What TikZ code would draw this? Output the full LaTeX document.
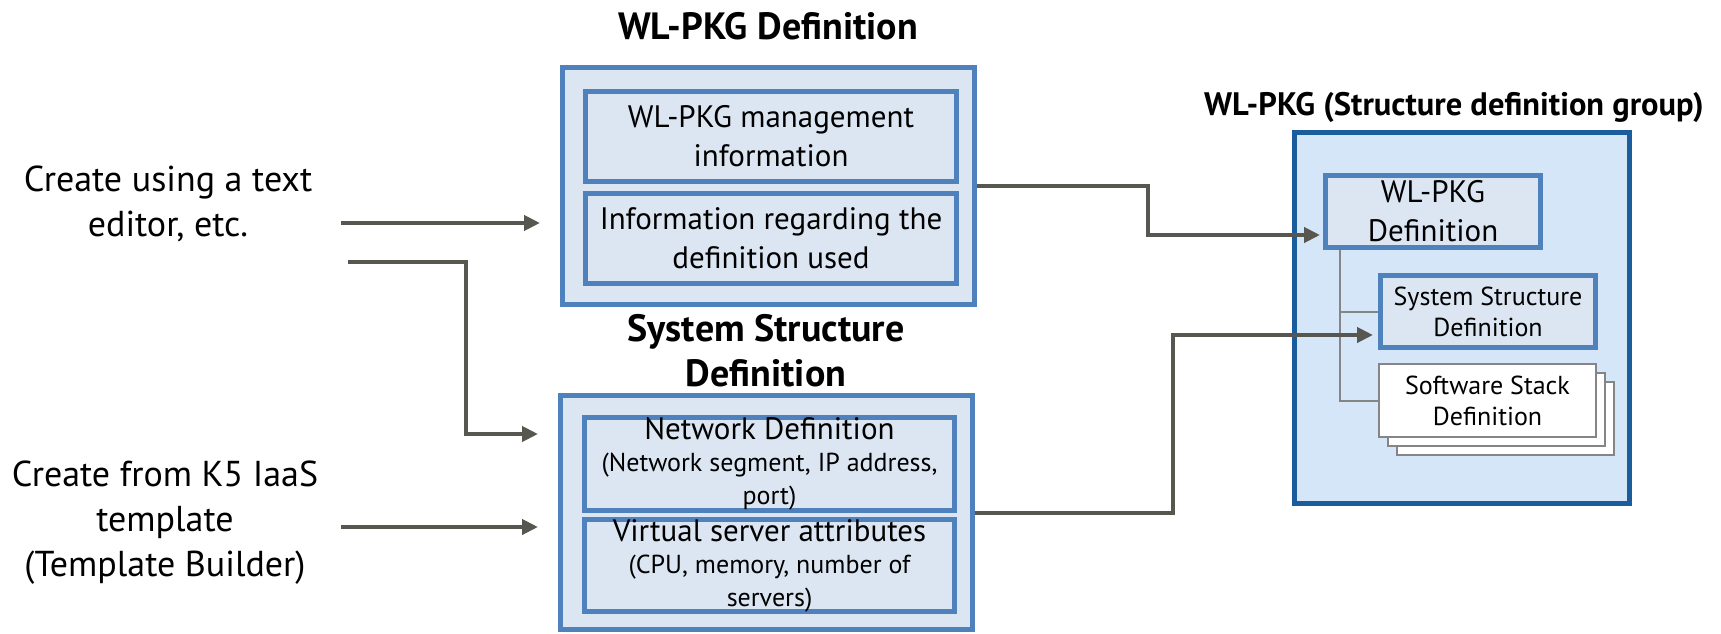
\documentclass[tikz,border=0pt]{standalone}
\usepackage{fontspec}
\setmainfont{PT Sans}
\usetikzlibrary{arrows.meta,shadows}

\definecolor{boxfill}{HTML}{DCE6F2}
\definecolor{boxline}{HTML}{4F81BD}
\definecolor{grpfill}{HTML}{D5E6F8}
\definecolor{grpline}{HTML}{1A5C9C}
\definecolor{flowgray}{HTML}{57574F}
\definecolor{treegray}{HTML}{858585}

\newcommand\subtxt{\fontsize{26}{31}\selectfont}

\begin{document}
\begin{tikzpicture}[x=1pt,y=-1pt,
    outerbox/.style={draw=boxline,fill=boxfill,line width=5pt,inner sep=0pt},
    itembox/.style={draw=boxline,fill=boxfill,line width=5pt,inner sep=0pt,align=center,
      font=\fontsize{31}{39}\selectfont},
    stackbox/.style={draw=treegray,fill=white,line width=2pt,inner sep=0pt,align=center,
      font=\subtxt},
    heading/.style={font=\fontsize{38}{45}\selectfont\bfseries,align=center},
    source/.style={font=\fontsize{36}{45}\selectfont,align=center},
    flow/.style={draw=flowgray,line width=4pt,-{Triangle[length=16pt,width=15pt]}},
    tree/.style={draw=treegray,line width=2pt}]
    \useasboundingbox (0,0) rectangle (1721,634);

    % where the definitions come from
    \node[source] (src1) at (168,204) {Create using a text\\editor, etc.};
    \node[source] (src2) at (165,523) {Create from K5 IaaS\\template\\(Template Builder)};

    % WL-PKG definition
    \node[heading,anchor=base] (deftitle) at (768,40) {WL-PKG Definition};
    \node[outerbox,minimum width=412pt,minimum height=237pt] (defbox) at (768.5,186) {};
    \node[itembox,minimum width=371pt,minimum height=90pt] (mgmt) at (771,136.5)
        {WL-PKG management\\information};
    \node[itembox,minimum width=371pt,minimum height=90pt] (used) at (771,238.5)
        {Information regarding the\\definition used};

    % system structure definition
    \node[heading] (systitle) at (766,351) {System Structure\\Definition};
    \node[outerbox,minimum width=412pt,minimum height=234pt] (sysbox) at (766.5,512.5) {};
    \node[itembox,minimum width=370pt,minimum height=89pt] (net) at (769.5,464)
        {Network Definition\\[-7pt]\subtxt (Network segment, IP address,\\[-6pt]\subtxt port)};
    \node[itembox,minimum width=370pt,minimum height=90pt] (vsrv) at (769.5,565.5)
        {Virtual server attributes\\[-7pt]\subtxt (CPU, memory, number of\\[-6pt]\subtxt servers)};

    % the package
    \node[font=\fontsize{32.5}{39}\selectfont\bfseries,anchor=base] (grptitle) at (1454,115)
        {WL-PKG (Structure definition group)};
    \node[draw=grpline,fill=grpfill,line width=5pt,minimum width=335pt,minimum height=371pt]
        (grp) at (1462,318) {};
    \node[itembox,minimum width=215pt,minimum height=72pt] (pkgdef) at (1433,211.5)
        {WL-PKG\\Definition};
    \node[itembox,minimum width=215pt,minimum height=72pt,font=\subtxt] (ssd) at (1488,311.5)
        {System Structure\\Definition};
    \node[stackbox,minimum width=217pt,minimum height=73pt,
        double copy shadow={shadow xshift=9pt,shadow yshift=-9pt,draw=treegray,fill=white,line width=2pt}]
        (stack) at (1487.5,400.5) {Software Stack\\Definition};

    \draw[tree] ([xshift=17pt]pkgdef.south west) |- (ssd.west);
    \draw[tree] ([xshift=17pt]pkgdef.south west) |- (stack.west);

    % arrows
    \coordinate (e1) at (341,223);
    \coordinate (e2) at (348,262);
    \coordinate (k2) at (466,434);
    \coordinate (e3) at (341,527);
    \draw[flow,shorten >=20pt] (e1) -- (e1 -| defbox.west);
    \draw[flow,shorten >=20pt] (e2) -| (k2) -- (k2 -| sysbox.west);
    \draw[flow,shorten >=20pt] (e3) -- (e3 -| sysbox.west);

    \coordinate (j1) at (1148,235);
    \coordinate (j2) at (1173,335);
    \draw[flow,shorten >=3pt] (defbox.east) -| (j1) -- (j1 -| pkgdef.west);
    \draw[flow,shorten >=5pt] (sysbox.east) -| (j2) -- (j2 -| ssd.west);
\end{tikzpicture}
\end{document}
